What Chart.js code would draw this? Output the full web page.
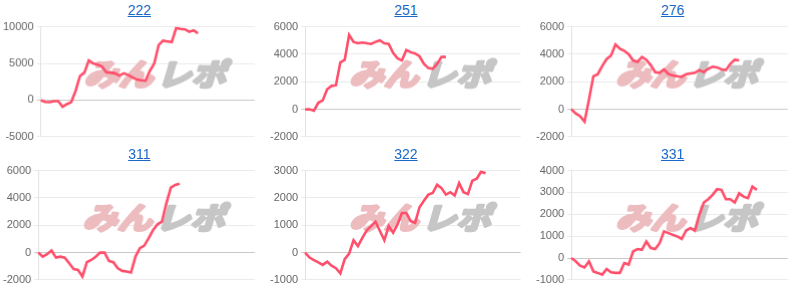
<!DOCTYPE html>
<html>
<head>
<meta charset="utf-8">
<script src="https://cdn.jsdelivr.net/npm/chart.js@4"></script>
<style>
  html, body { margin: 0; padding: 0; background: #fff; }
  #grid { position: relative; width: 800px; height: 287px; overflow: hidden; }
  .cell { position: absolute; width: 266.67px; height: 143.5px; }
  .ttl {
    position: absolute; left: 12px; right: 0; top: 0; height: 20px;
    text-align: center; line-height: 20px;
    font-family: "Liberation Sans", Arial, sans-serif; font-size: 14px;
  }
  .ttl a { color: #1a68c8; text-decoration: underline; }
  .box { position: absolute; left: 0; right: 0; top: 17px; bottom: -2px; }
</style>
</head>
<body>
<div id="grid"></div>
<script>
// x positions (one per play day, shared by every panel)
const days = Array.from({ length: 50 }, (_, i) => i + 1);

// panel names
const names = ["222", "251", "276", "311", "322", "331"];

// series values
const d222 = [0, -250, -270, -150, -150, -900, -550, -250, 1300, 3300, 3750, 5400, 5000, 4850, 4600, 3800, 3750, 3650, 3350, 3650, 3450, 3100, 2800, 2700, 2650, 4000, 5000, 7500, 8100, 8000, 7900, 9800, 9700, 9650, 9300, 9500, 9100];
const d251 = [0, 0, -100, 480, 650, 1450, 1700, 1750, 3400, 3600, 5400, 4900, 4800, 4850, 4800, 4750, 4900, 5000, 4800, 4750, 4100, 3700, 3550, 4300, 4150, 4050, 3850, 3300, 3000, 2950, 3300, 3800, 3800];
const d276 = [0, -300, -500, -900, 700, 2400, 2550, 3150, 3650, 3900, 4700, 4400, 4250, 4000, 3550, 3450, 3800, 3600, 3200, 2700, 2650, 2900, 2550, 2450, 2400, 2350, 2550, 2600, 2650, 2850, 2700, 2950, 3100, 3050, 2900, 2850, 3300, 3600, 3550];
const d311 = [0, -300, -120, 150, -370, -300, -370, -780, -1200, -1270, -1750, -700, -540, -300, 0, 0, -610, -700, -1150, -1340, -1390, -1460, -290, 320, 510, 1050, 1660, 2070, 2270, 3600, 4750, 4950, 5030];
const d322 = [0, -180, -280, -360, -450, -330, -480, -570, -760, -240, -40, 450, 240, 540, 810, 970, 1130, 790, 450, 970, 730, 1030, 1450, 1450, 1150, 1090, 1660, 1900, 2120, 2180, 2480, 2360, 2120, 2210, 2090, 2540, 2210, 2140, 2630, 2700, 2960, 2900];
const d331 = [0, -150, -350, -430, -150, -610, -680, -760, -500, -650, -680, -680, -230, -300, 300, 410, 380, 760, 460, 410, 680, 1220, 1140, 1060, 990, 870, 1260, 1370, 1250, 1980, 2540, 2690, 2890, 3150, 3120, 2690, 2690, 2540, 2960, 2810, 2740, 3270, 3120];

// y axis ranges: [min, max, step]
const yMins = [-5000, -2000, -2000, -2000, -1000, -1000];
const yMaxs = [10000, 6000, 6000, 6000, 3000, 4000];
const ySteps = [5000, 2000, 2000, 2000, 1000, 1000];

const series = [d222, d251, d276, d311, d322, d331];

// watermark logo drawn behind the line
const watermark = {
  id: "watermark",
  beforeDatasetsDraw(chart) {
    const { ctx, chartArea } = chart;
    const cx = (chartArea.left + chartArea.right) / 2 + 10;
    const cy = (chartArea.top + chartArea.bottom) / 2 - 8;
    ctx.save();
    ctx.translate(cx, cy);
    ctx.transform(1.15, 0, -0.3, 1, 0, 0);
    ctx.font = "bold 30px 'Noto Sans CJK JP'";
    ctx.textBaseline = "middle";
    ctx.lineJoin = "round";
    ctx.lineWidth = 3;
    ctx.textAlign = "right";
    ctx.fillStyle = ctx.strokeStyle = "#ecbcbf";
    ctx.strokeText("みん", -1, 0);
    ctx.fillText("みん", -1, 0);
    ctx.textAlign = "left";
    ctx.fillStyle = ctx.strokeStyle = "#c6c6c6";
    ctx.strokeText("レポ", 2, 0);
    ctx.fillText("レポ", 2, 0);
    ctx.restore();
  }
};

const grid = document.getElementById("grid");

names.forEach((name, i) => {
  const col = i % 3;
  const row = Math.floor(i / 3);

  const cell = document.createElement("div");
  cell.className = "cell";
  cell.style.left = `${col * 266.67}px`;
  cell.style.top = `${row * 143.5}px`;
  cell.innerHTML = `
    <div class="ttl"><a href="#">${name}</a></div>
    <div class="box"><canvas></canvas></div>
  `;
  grid.appendChild(cell);

  const ctx = cell.querySelector("canvas").getContext("2d");
  new Chart(ctx, {
    type: "line",
    data: {
      labels: days,
      datasets: [{
        data: series[i],
        borderColor: "#ff4f6b",
        borderWidth: 2.6,
        pointRadius: 0,
        tension: 0,
        fill: false,
      }]
    },
    options: {
      responsive: true,
      maintainAspectRatio: false,
      animation: false,
      layout: { padding: { left: 0, right: 13, top: 2, bottom: 0 } },
      plugins: {
        legend: { display: false },
        tooltip: { enabled: false },
      },
      scales: {
        x: { display: false },
        y: {
          min: yMins[i],
          max: yMaxs[i],
          ticks: {
            stepSize: ySteps[i],
            color: "#666",
            padding: 3,
            font: { family: "'Liberation Sans', Arial, sans-serif", size: 11 },
            callback: (v) => String(v),
          },
          grid: {
            color: (c) => (c.tick && c.tick.value === 0 ? "#c8c8c8" : "#ebebeb"),
            tickLength: 4,
          },
          border: { color: "#e2e2e2" },
        },
      },
    },
    plugins: [watermark],
  });
});
</script>
</body>
</html>
